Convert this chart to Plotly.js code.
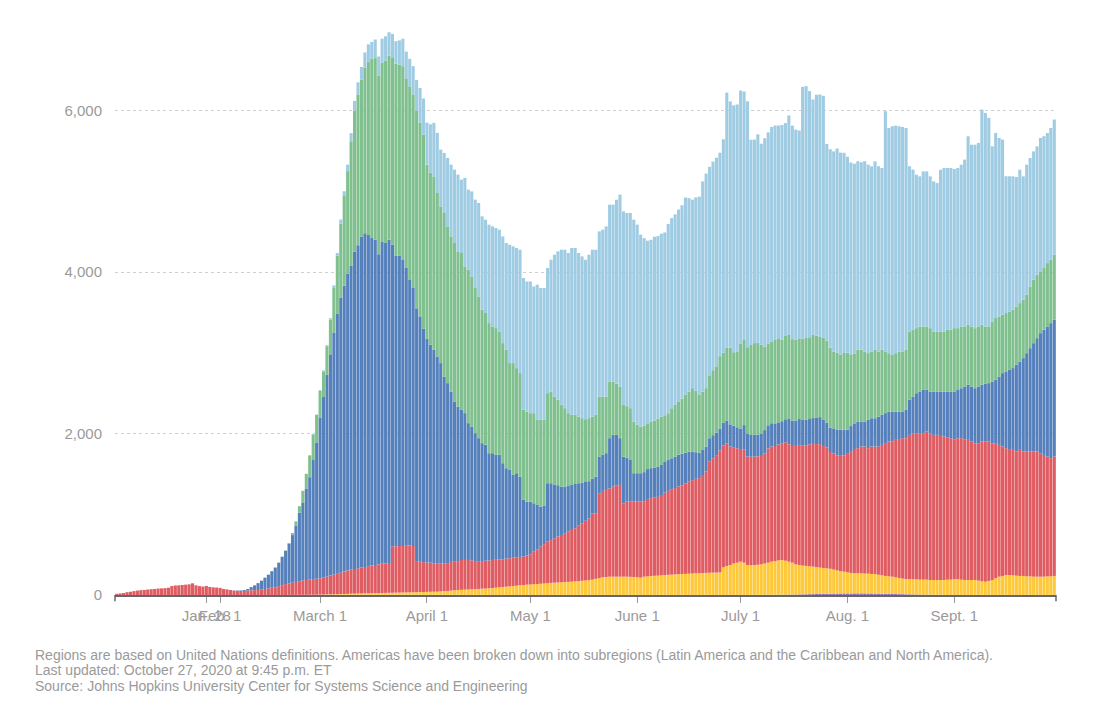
<!DOCTYPE html>
<html>
<head>
<meta charset="utf-8">
<script src="https://cdn.plot.ly/plotly-3.0.1.min.js"></script>
<style>
html,body{margin:0;padding:0;background:#fff;}
#chart{width:1110px;height:706px;}
#chart .bars path{shape-rendering:geometricPrecision !important;}
</style>
</head>
<body>
<div id="chart"></div>
<script>
// Daily values, one per day starting at the first bar (axis date Jan. 2)
const startDate = '2020-01-02';

const oceania = [
0,0,0,0,0,0,0,0,0,0, 0,0,0,0,0,0,0,0,0,0, 0,0,0,0,0,0,0,0,0,0,
0,0,0,0,0,0,0,0,0,0, 0,0,0,0,0,0,0,0,0,0, 0,0,0,0,0,0,0,0,0,0,
2,2,2,2,2,2,2,2,2,2, 2,2,2,2,2,2,2,2,2,2, 2,2,2,2,2,2,2,2,2,2, 2,2,2,2,2,2,2,2,2,2, 2,
1,1,1,1,1,1,1,1,1,1, 1,1,1,1,1,1,1,1,1,1, 1,1,1,1,1,1,1,1,1,1, 1,1,1,1,1,1,1,1,1,1,
1,1,1,1,1,1,1,1,1,1, 1,1,1,1,1,1,1,1,1,1, 1,1,1,1,1,1,1,1,1,1, 1,1,1,1,1,1,1,1,1,1,
1,1,1,2,2,2,2,2,3,3, 3,3,4,4,5,5,6,7,8,9,
10,11,12,13,14,15,16,17,18,18,19,19,
19,20,20,20,20,19,19,18,17,16, 15,14,13,12,11,10,9,8,7,6, 5,4,4,3,3,3,2,2,1,1,
1,1,1,1,1,1,1,1,1,1, 1,1,1,1,1,1,1,1,1,1, 1,1,1,1,1,1,1,1,1,1
];

const africa = [
0,0,0,0,0,0,0,0,0,0, 0,0,0,0,0,0,0,0,0,0, 0,0,0,0,0,0,0,0,0,0, 0,0,0,0,0,0,0,0,0,0, 0,0,0,0,0,0,0,0,0,0,
1,1,1,2,2,2,3,3,4,5, 5,6,7,8,9,10,11,12,14,15, 16,17,18,19,20,21,22,23,24,25,
26,27,28,29,30,31,32,33,34,35,37,38,
39,39,43,46,48,53,58,60,62,65, 67,69,71,74,77,79,82,86,90,94,
98,102,106,110,115,120,123,127,129,132, 135,139,142,145,149,152,154,156,159,161,
164,167,171,175,179,183,189,199,209,218, 221,226,226,226,226,226,226,224,221,219, 214,
226,229,234,237,239,243,247,249,251,254, 257,259,261,263,265,268,269,271,273,275,
276,277,279,342,359,371,389,399,412,399, 371,368,370,373,378,388,397,410,417,427,
430,421,408,395,374,365,357,351,345,340, 333,327,321,316,309,298,287,277,270,263,
254,249,249,249,245,246,241,242,235,228, 221,217,214,207,200,193,189,186,187,188,
185,186,186,183,183,183,184,184,189,189, 193,193,189,185,185,185,185,177,168,164,
173,185,206,226,235,247,247,243,239,235, 235,230,230,226,226,226,226,230,230,235
];

const asia = [
15,20,25,35,40,48,55,60,62,68, 72,75,80,82,85,90,112,118,120,124,
128,132,145,120,110,105,112,100,95,92, 88,75,70,62,55,52,50,50,
55,58,60,62,68,75,82,90,95,110, 122,135,144,151,161,168,178,184,189,194,
198,202,210,219,233,242,253,265,277,288, 296,305,314,321,327,336,342,349,356,362,
366,370,574,575,577,577,578,579,573,377, 376,370,363,362,
352,352,348,345,345,355,353,358,370,368, 366,360,348,345,342,345,345,347,345,345,
343,347,348,351,351,351,352,362,375,404, 429,459,487,515,530,550,570,587,605,623,
641,659,686,713,740,767,823,813,1051,1071, 1080,1093,1116,1128,1137,910,930,932,935,937, 945,
930,960,965,970,975,995,1020,1040,1058,1070, 1087,1100,1120,1140,1157,1170,1178,1215,1256,1376,
1418,1455,1509,1509,1517,1467,1434,1418,1385,1405, 1343,1343,1343,1343,1343,1364,1414,1426,1426,1434,
1447,1467,1455,1447,1467,1488,1490,1496,1510,1521, 1525,1529,1510,1496,1447,1440,1426,1430,1438,1467,
1510,1540,1550,1571,1575,1554,1579,1579,1587,1616, 1645,1670,1674,1703,1711,1740,1744,1790,1810,1810,
1814,1814,1835,1818,1798,1798,1785,1777,1765,1752, 1736,1748,1752,1744,1736,1715,1694,1703,1732,1736,
1728,1694,1674,1633,1604,1571,1550,1554,1537,1562, 1542,1546,1546,1550,1550,1529,1509,1484,1463,1480
];

const europe = [
0,0,0,0,0,0,0,0,0,0, 0,0,0,0,0,0,0,0,0,0, 0,0,0,0,0,0,0,0,0,0, 0,0,0,0,
2,4,7,12,
20,40,60,85,110,140,170,205,245,290, 350,410,490,590,700,850,960,1134,1268,1483,
1688,1993,2235,2505,2740,3000,3218,3405,3542,3680, 3770,3930,4000,4102,4135,4105,4058,4030,3842,3985,
3970,4005,3740,3598,3595,3544,3442,3290,3195,3140, 3040,2895,2770,2700,
2645,2562,2480,2314,2230,2111,1984,1915,1860,1819, 1695,1657,1585,1523,1461,1435,1329,1323,1300,1300,
1191,1121,1095,1026,1042,995,702,667,652,600, 551,496,480,724,705,661,635,599,578,565,
558,548,527,504,480,459,427,454,454,450, 455,623,641,629,579,578,543,523,352,352, 349,
365,370,372,372,372,372,380,382,384,390, 393,390,380,372,355,330,315,310,310,290,
285,280,270,280,285,275,275,260,265,300, 280,269,269,270,280,289,289,289,280,275,
272,285,320,310,315,320,320,318,315,320, 330,335,330,310,300,310,320,325,320,300,
310,310,331,310,310,351,351,351,372,372, 372,372,372,351,351,331,351,434,455,496,
517,537,517,517,537,537,550,558,566,579, 591,599,620,653,682,682,682,703,703,715,
723,765,785,847,909,951,992,1013,1075,1095, 1157,1219,1281,1343,1405,1488,1550,1612,1674,1695
];

const northAmerica = [
0,0,0,0,0,0,0,0,0,0, 0,0,0,0,0,0,0,0,0,0, 0,0,0,0,0,0,0,0,0,0, 0,0,0,0,0,0,0,0,0,0, 0,0,0,0,0,
1,2,3,5,7, 10,25,
50,80,150,180,270,310,340,330,320,350, 430,560,720,920,1120,1270,1540,1750,1870,1940,
2050,2140,2220,2250,2210,2220,2260,2280,2320,2380, 2370,2400,2350,2400,2400,2450,2400,2400,2160,2130,
2149,2026,1942,2026,1942,1922,1964,1922,1943,1818, 1901,1860,1798,1756,1653,1633,1612,1570,1571,1525,
1488,1467,1323,1385,1302,1282,1116,1116,1096,1116, 1054,1075,1060,1116,1136,1095,1058,1013,972,903,
868,857,826,798,778,781,770,765,744,719, 702,702,661,636,640,641,640,635,640,599, 578,
579,558,579,579,600,600,579,580,620,641, 661,682,723,744,785,760,723,723,723,780,
806,820,900,870,900,951,909,940,1054,1054, 1075,1116,1137,1137,1100,1033,1013,1013,1033,1033,
1013,1033,1033,1013,1000,1000,1000,1010,1013,1033, 1013,992,1013,1013,992,951,951,930,951,951,
889,868,889,889,868,827,827,847,806,806, 765,723,703,723,744,744,744,847,827,806,
806,785,785,785,744,744,744,744,765,765, 785,765,765,744,744,744,744,744,744,711,
703,744,765,744,723,723,723,723,723,723, 723,723,765,785,785,765,765,785,785,806
];

const latinAmerica = [
0,0,0,0,0,0,0,0,0,0, 0,0,0,0,0,0,0,0,0,0, 0,0,0,0,0,0,0,0,0,0, 0,0,0,0,0,0,0,0,0,0, 0,0,0,0,0,0,0,0,0,0, 0,0,0,0,
1,2,3,4,6,8,10,14,18,25, 35,50,50,80,100,120,150,160,190,220,
210,230,240,300,300,290,290,280,300,340, 330,340,350,380,430,450,520,600,
662,744,703,744,848,889,909,951,909,1096, 992,1054,1095,1158,1157,1157,1219,1240,1240,1261,
1322,1323,1467,1446,1488,1529,1633,1612,1632,1570, 1674,1633,1633,1550,1633,1757,1839,1922,1963,1984,
2067,2067,2026,2004,1976,2025,2068,2046,2046,2067, 2108,2191,2191,2278,2377,2397,2393,2418,2501,2480, 2377,
2320,2270,2250,2280,2260,2265,2265,2345,2356,2360, 2377,2397,2439,2397,2335,2397,2450,2604,2658,2583,
2583,2583,2521,2645,3162,3050,3059,3059,3133,3079, 3046,2542,2521,2583,2488,2583,2616,2658,2658,2645,
2658,2637,2720,2645,2604,2575,3121,3121,3050,2914, 2984,3005,2997,2439,2459,2480,2530,2501,2480,2430,
2376,2356,2335,2323,2356,2335,2294,2335,2294,2252, 2976,2790,2831,2819,2790,2781,2748,2046,1984,1901,
1860,1922,1922,1881,1860,1839,2004,2025,2004,2004, 1971,1984,2004,2067,2335,2252,2273,2273,2666,2645,
2583,2170,2294,2211,2170,1695,1674,1653,1604,1653, 1529,1612,1591,1591,1591,1653,1633,1612,1633,1674
];

const tickDates = ['2020-01-28','2020-02-01','2020-03-01','2020-04-01','2020-05-01','2020-06-01','2020-07-01','2020-08-01','2020-09-01'];
const tickLabels = ['Jan. 28','Feb. 1','March 1','April 1','May 1','June 1','July 1','Aug. 1','Sept. 1'];
const yTicks = [0, 2000, 4000, 6000];
const yTickLabels = ['0', '2,000', '4,000', '6,000'];

const notes = [
  'Regions are based on United Nations definitions. Americas have been broken down into subregions (Latin America and the Caribbean and North America).',
  'Last updated: October 27, 2020 at 9:45 p.m. ET',
  'Source: Johns Hopkins University Center for Systems Science and Engineering'
];

// build the date for each bar
const t0 = Date.parse(startDate + 'T00:00:00Z');
const dates = asia.map((_, i) => new Date(t0 + i * 86400000).toISOString().slice(0, 10));

const series = [
  {name: 'Oceania', y: oceania, color: '#8a6cc0'},
  {name: 'Africa', y: africa, color: '#fdc93b'},
  {name: 'Asia', y: asia, color: '#e05c63'},
  {name: 'Europe', y: europe, color: '#5580bb'},
  {name: 'North America', y: northAmerica, color: '#80c08f'},
  {name: 'Latin America and the Caribbean', y: latinAmerica, color: '#9fcce3'}
];

const traces = series.map(s => ({
  type: 'bar', x: dates, y: s.y, name: s.name,
  marker: {color: s.color, line: {width: 0}},
  hoverinfo: 'skip'
}));

const font = 'Liberation Sans, Arial, Helvetica, sans-serif';

const annotations = notes.map((t, i) => ({
  text: t, xref: 'paper', yref: 'paper',
  x: -0.0871, y: [-0.1062, -0.1336, -0.1611][i],
  xanchor: 'left', yanchor: 'middle', showarrow: false, align: 'left',
  font: {family: font, size: 14, color: '#9a9a9a'}
}));

const layout = {
  width: 1110, height: 706,
  margin: {l: 115, r: 54, t: 30, b: 111, pad: 0},
  barmode: 'stack', bargap: 0.1,
  showlegend: false,
  paper_bgcolor: '#ffffff', plot_bgcolor: '#ffffff',
  font: {family: font, size: 15, color: '#999'},
  xaxis: {
    type: 'date', range: ['2020-01-01 12:00', '2020-09-30 12:00'],
    tickvals: tickDates, ticktext: tickLabels, tickangle: 0,
    ticks: 'outside', ticklen: 6, tickwidth: 1, tickcolor: '#999',
    showline: true, linecolor: '#666', linewidth: 1.5,
    showgrid: false, zeroline: false,
    tickfont: {family: font, size: 15, color: '#9a9a9a'},
    fixedrange: true
  },
  yaxis: {
    range: [0, 7000], tickvals: yTicks, ticktext: yTickLabels,
    showgrid: true, gridcolor: '#cfcfcf', gridwidth: 1, griddash: 'dot',
    zeroline: false, showline: false, ticks: '',
    ticklabelstandoff: 12,
    tickfont: {family: font, size: 15, color: '#9a9a9a'},
    fixedrange: true
  },
  shapes: [
    {type: 'line', xref: 'paper', yref: 'paper', x0: 0, x1: 0, y0: 0, y1: -0.011, line: {color: '#666', width: 1.5}},
    {type: 'line', xref: 'paper', yref: 'paper', x0: 1, x1: 1, y0: 0, y1: -0.011, line: {color: '#666', width: 1.5}}
  ],
  annotations: annotations
};

Plotly.newPlot('chart', traces, layout, {displayModeBar: false, staticPlot: true}).then(() => {
  document.querySelectorAll('#chart .bars path').forEach(p => {
    p.style.shapeRendering = 'geometricPrecision';
  });
});
</script>
</body>
</html>
